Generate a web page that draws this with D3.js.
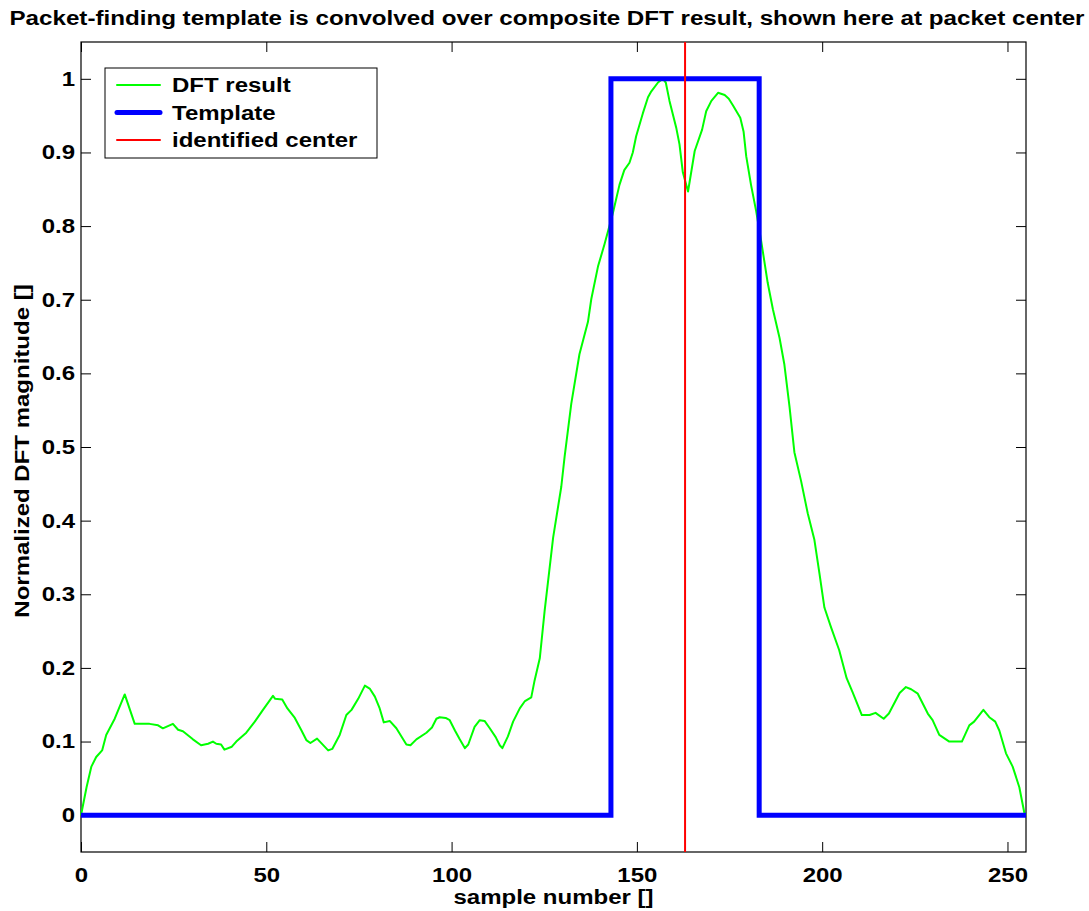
<!DOCTYPE html>
<html>
<head>
<meta charset="utf-8">
<script src="https://cdn.jsdelivr.net/npm/d3@7"></script>
<style>
body{margin:0;background:#fff;}
text{font-family:"Liberation Sans",Arial,sans-serif;font-weight:bold;fill:#000;}
</style>
</head>
<body>
<svg id="chart" width="1089" height="911"></svg>
<script>
// green DFT curve, digitized (sample number, normalized magnitude)
var dftSample=[0,1.5,2.8,4.1,5.7,6.8,9.1,11.8,14.5,18.5,20.8,22.1,24.8,26.2,27.5,30.2,32.4,34.3,35.6,36.5,37.8,38.7,40.7,41.9,44.6,46.9,49.1,51.8,52.4,54.3,55.7,57.7,59.5,60.8,61.9,63.7,66.7,67.8,69.8,71.6,73.0,74.8,76.6,77.9,79.3,80.6,81.7,83.3,85.1,87.8,88.9,90.5,93.2,94.7,95.9,96.8,98.4,99.5,100.9,102.2,103.6,104.5,106.2,107.6,108.9,110.3,111.9,113.0,113.7,115.2,116.6,118.4,119.8,121.5,122.4,123.8,125.1,127.4,129.6,130.5,132.3,134.5,136.8,137.7,139.5,141.3,143.5,145.3,146.6,148.0,148.9,149.8,151.6,153.0,153.9,155.7,157.0,157.8,158.8,160.6,161.5,162.4,163.8,165.6,167.6,168.7,170.1,171.9,173.7,174.8,175.9,177.9,178.8,179.5,180.8,182.2,183.5,185.3,186.7,188.5,189.8,191.2,192.5,194.3,196.1,197.9,199.3,200.6,202.4,204.6,206.6,208.2,210.7,212.8,214.4,216.6,218.0,220.9,222.6,224.0,225.8,228.5,229.8,231.6,234.3,237.7,239.7,241.0,243.5,245.1,246.7,247.8,249.6,251.4,253.2,254.6,255];
var dftValue=[0,0.038,0.066,0.079,0.088,0.109,0.131,0.164,0.124,0.124,0.122,0.118,0.124,0.116,0.114,0.103,0.095,0.097,0.100,0.097,0.096,0.089,0.093,0.100,0.112,0.127,0.143,0.162,0.158,0.157,0.145,0.132,0.115,0.102,0.098,0.104,0.088,0.090,0.109,0.136,0.143,0.158,0.176,0.172,0.161,0.145,0.126,0.128,0.118,0.096,0.095,0.103,0.112,0.119,0.131,0.133,0.132,0.129,0.115,0.103,0.091,0.096,0.120,0.129,0.128,0.118,0.106,0.095,0.091,0.107,0.127,0.145,0.155,0.160,0.183,0.213,0.277,0.377,0.446,0.487,0.559,0.626,0.670,0.701,0.745,0.776,0.817,0.856,0.876,0.886,0.900,0.922,0.953,0.975,0.983,0.995,1.000,0.995,0.970,0.934,0.911,0.873,0.847,0.902,0.931,0.956,0.970,0.981,0.978,0.973,0.964,0.947,0.928,0.895,0.856,0.820,0.781,0.723,0.687,0.648,0.612,0.554,0.493,0.454,0.410,0.374,0.327,0.282,0.255,0.224,0.186,0.167,0.136,0.136,0.139,0.131,0.138,0.166,0.174,0.171,0.165,0.138,0.129,0.109,0.100,0.100,0.122,0.127,0.143,0.133,0.127,0.115,0.084,0.066,0.038,0.002,0];

// blue template (step)
var templateSample=[0,143,143,183,183,255];
var templateValue=[0,0,1,1,0,0];

var centerSample=163;

var xTicks=[0,50,100,150,200,250];
var yTicks=[0,0.1,0.2,0.3,0.4,0.5,0.6,0.7,0.8,0.9,1];

var legendLabels=["DFT result","Template","identified center"];
var legendColors=["#00ff00","#0000ff","#ff0000"];
var legendWidths=[2,5,2];

var svg=d3.select('#chart');
var m={left:81,right:63,top:42,bottom:59};
var W=1089-m.left-m.right, H=911-m.top-m.bottom;

var x=d3.scaleLinear().domain([0,255]).range([0,W]);
var y=d3.scaleLinear().domain([-0.05,1.05]).range([H,0]);

var g=svg.append('g').attr('transform','translate('+m.left+','+m.top+')');

// axes with inward ticks on all sides
function tickFmt(d){ return d3.format('')(+d.toFixed(1)); }
var xb=g.append('g').attr('transform','translate(0,'+H+')')
	.call(d3.axisBottom(x).tickValues(xTicks).tickSizeInner(-10).tickSizeOuter(0).tickPadding(16));
var xt=g.append('g')
	.call(d3.axisTop(x).tickValues(xTicks).tickSizeInner(-10).tickSizeOuter(0).tickFormat(''));
var yl=g.append('g')
	.call(d3.axisLeft(y).tickValues(yTicks).tickSizeInner(-10).tickSizeOuter(0).tickPadding(6).tickFormat(tickFmt));
var yr=g.append('g').attr('transform','translate('+W+',0)')
	.call(d3.axisRight(y).tickValues(yTicks).tickSizeInner(-10).tickSizeOuter(0).tickFormat(''));
[xb,xt,yl,yr].forEach(function(a){
	a.select('.domain').remove();
	a.selectAll('.tick line').attr('stroke','#000').attr('stroke-width',1);
	a.selectAll('text').style('font-size','20px').style('font-family','"Liberation Sans",Arial,sans-serif').style('font-weight','bold');
});

g.append('rect').attr('x',0).attr('y',0).attr('width',W).attr('height',H)
	.attr('fill','none').attr('stroke','#000').attr('stroke-width',1.2);

// clip
g.append('clipPath').attr('id','clip').append('rect').attr('x',-3).attr('y',-3).attr('width',W+6).attr('height',H+6);
var plot=g.append('g').attr('clip-path','url(#clip)');

var dftData=dftSample.map(function(s,i){return [s,dftValue[i]];});
var tplData=templateSample.map(function(s,i){return [s,templateValue[i]];});
var line=d3.line().x(function(d){return x(d[0]);}).y(function(d){return y(d[1]);});

plot.append('path').datum(dftData).attr('d',line)
	.attr('fill','none').attr('stroke','#00ff00').attr('stroke-width',2).attr('stroke-linejoin','round');
plot.append('path').datum(tplData).attr('d',line)
	.attr('fill','none').attr('stroke','#0000ff').attr('stroke-width',5).attr('stroke-linejoin','miter');
plot.append('line').attr('x1',x(centerSample)).attr('x2',x(centerSample)).attr('y1',0).attr('y2',H)
	.attr('stroke','#ff0000').attr('stroke-width',2);

// legend
var lg=g.append('g').attr('transform','translate(24,26)');
lg.append('rect').attr('width',272).attr('height',90).attr('fill','#fff').attr('stroke','#000').attr('stroke-width',1);
legendLabels.forEach(function(l,i){
	var yy=17+i*27.5;
	lg.append('line').attr('x1',12).attr('x2',55).attr('y1',yy).attr('y2',yy)
		.attr('stroke',legendColors[i]).attr('stroke-width',legendWidths[i]).attr('stroke-linecap','round');
	lg.append('text').attr('class','lgt').attr('x',67).attr('y',yy).attr('dy','0.36em').style('font-size','20px').text(l);
});

// labels
svg.append('text').attr('id','title').attr('x',547).attr('y',25).attr('text-anchor','middle')
	.style('font-size','20px').text('Packet-finding template is convolved over composite DFT result, shown here at packet center');
svg.append('text').attr('x',m.left+W/2).attr('y',904).attr('text-anchor','middle')
	.style('font-size','20px').text('sample number []');
svg.append('text').attr('transform','translate(29,451) rotate(-90)').attr('text-anchor','middle')
	.style('font-size','20px').text('Normalized DFT magnitude []');

// the source renders its Helvetica slightly wide: stretch glyphs
svg.selectAll('text').each(function(){
	var t=d3.select(this);
	if(!t.text()) return;
	var len=this.getComputedTextLength();
	var k=this.id==='title'?1075/len:1.2;
	t.attr('textLength',len*k).attr('lengthAdjust','spacingAndGlyphs');
});
</script>
</body>
</html>
